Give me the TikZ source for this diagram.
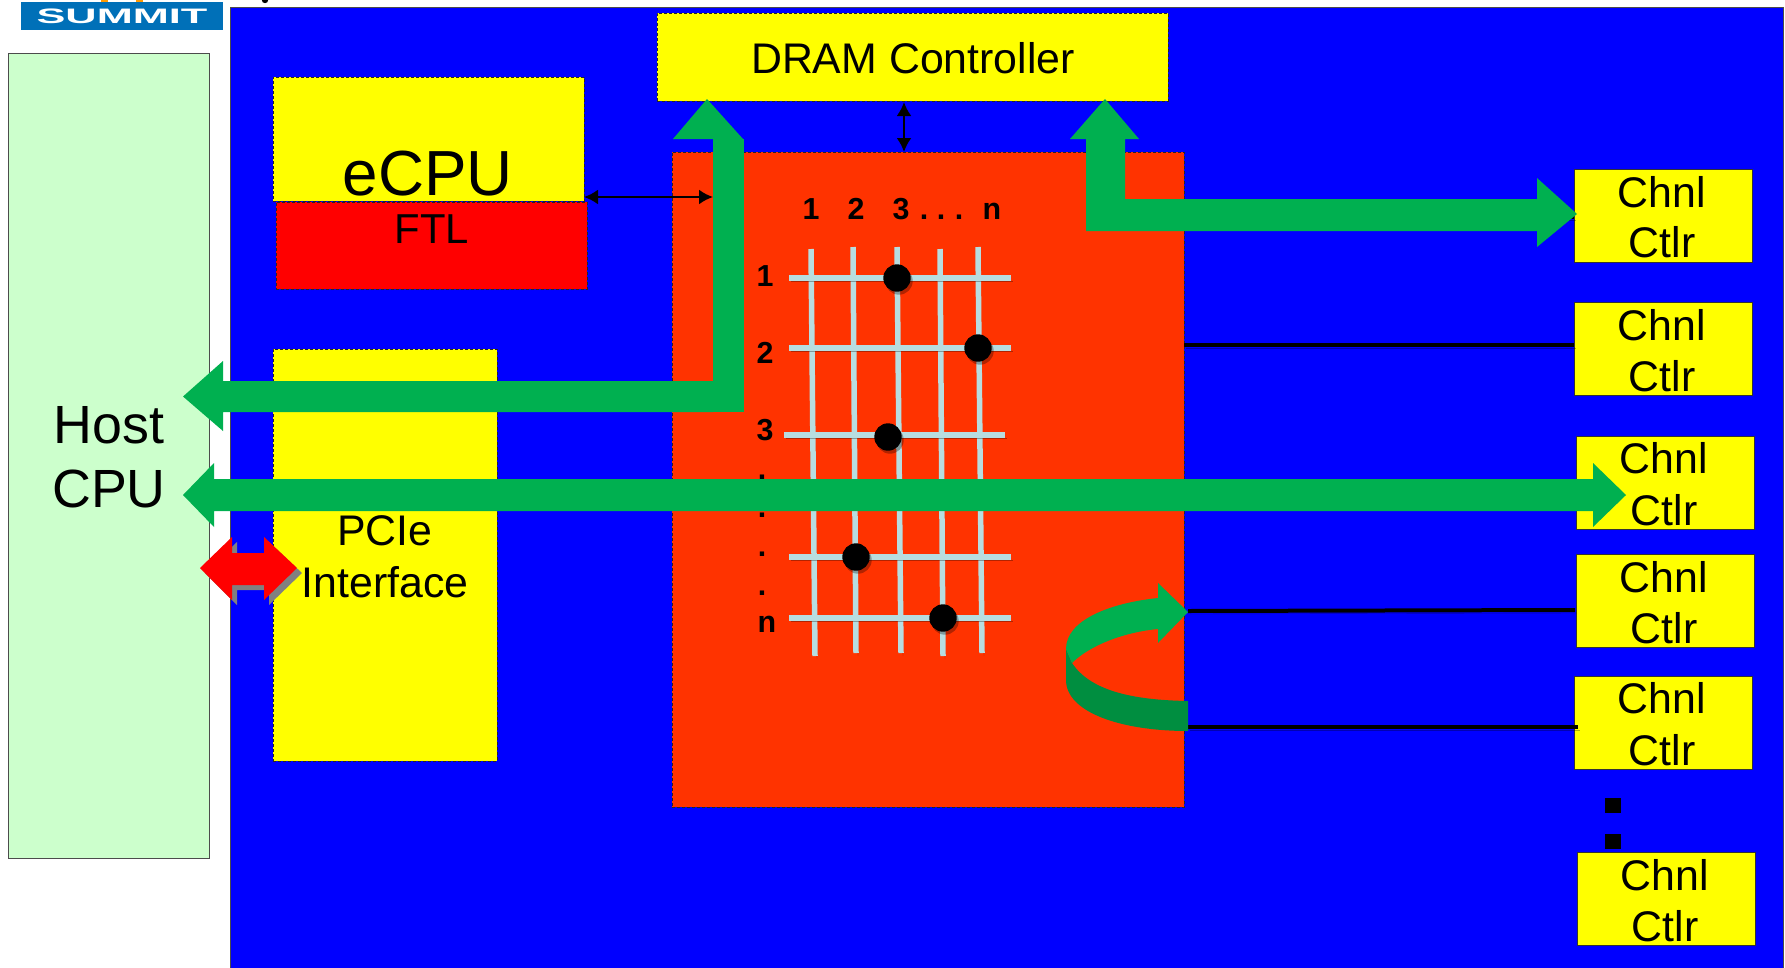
\documentclass[tikz,border=0pt]{standalone}
\usepackage{fontspec}
\setmainfont{Liberation Sans}
\usetikzlibrary{arrows.meta}
\newcommand{\pSize}[1]{\fontsize{#1}{#1}\selectfont}
\begin{document}
\begin{tikzpicture}[x=1bp,y=-1bp,
  blockbox/.style={anchor=north west, inner sep=0pt, outer sep=0pt, draw=black!85, line width=1bp, dash pattern=on 3bp off 2bp},
  chnlbox/.style={anchor=north west, inner sep=0pt, outer sep=0pt, fill=boxyellow, draw=black!80, line width=1bp, minimum width=178bp, minimum height=93bp},
  txtlabel/.style={anchor=base, inner sep=0pt},
  softshadow/.style={preaction={draw=black, opacity=0.3, transform canvas={shift={(2bp,-3bp)}}}},
  wire/.style={draw=black, line width=4bp, softshadow},
  bar/.style={draw=barblue, line width=5.5bp, softshadow},
  crosspoint/.style={fill=black, preaction={fill=black, opacity=0.3, transform canvas={shift={(2bp,-3bp)}}}},
  smallarrow/.style={draw=black, line width=2.4bp, {Latex[length=14bp,width=15bp]}-{Latex[length=14bp,width=15bp]}},
  greenarrow/.style={fill=busgreen},
]
\definecolor{boxyellow}{HTML}{FFFF00}
\definecolor{boxred}{HTML}{FF0000}
\definecolor{boardblue}{HTML}{0000FF}
\definecolor{busgreen}{HTML}{00B050}
\definecolor{busgreendark}{HTML}{008E40}
\definecolor{xbarred}{HTML}{FF3300}
\definecolor{barblue}{HTML}{B7DDE0}
\definecolor{hostgreen}{HTML}{CCFFCC}
\definecolor{logoblue}{HTML}{0070B8}
\useasboundingbox (0,0) rectangle (1785,967);
\clip (0,0) rectangle (1785,967);
\fill[white] (0,0) rectangle (1785,967);
% logo corner and clipped title
\fill[logoblue] (21,2) rectangle (223,30);
\fill[orange!80!yellow] (101,0) rectangle (108,2);
\fill[orange!80!yellow] (136,0) rectangle (143,2);
\fill[black] (265,0) circle (3.2);
\node[txtlabel, white] (logotext) at (122,23.5) {\scalebox{2.07}[1]{\pSize{21}\bfseries SUMMIT}};
% main blocks
\node[anchor=north west, inner sep=0pt, outer sep=0pt, fill=hostgreen, draw=black!70, line width=1bp, minimum width=201bp, minimum height=805bp] (host) at (8,53) {};
\node[anchor=north west, inner sep=0pt, outer sep=0pt, fill=boardblue, draw=black!70, line width=1bp, minimum width=1553bp, minimum height=965bp] (board) at (230,7) {};
\node[blockbox, fill=boxyellow, minimum width=311bp, minimum height=124bp] (ecpu) at (273,77) {};
\node[blockbox, fill=boxred, minimum width=311bp, minimum height=87bp] (ftl) at (276,202) {};
\node[blockbox, fill=boxyellow, minimum width=224bp, minimum height=412bp] (pcie) at (273,349) {};
\node[blockbox, fill=boxyellow, minimum width=511bp, minimum height=88bp] (dram) at (657,13) {};
\node[blockbox, fill=xbarred, minimum width=512bp, minimum height=655bp] (xbar) at (672,152) {};
\node[chnlbox] (chnlA) at (1574,169.5) {};
\node[chnlbox] (chnlB) at (1574,302.5) {};
\node[chnlbox] (chnlC) at (1576,436.5) {};
\node[chnlbox] (chnlD) at (1576,554.5) {};
\node[chnlbox] (chnlE) at (1574,676) {};
\fill[black] (1605,798) rectangle (1621,813);
\fill[black] (1605,834) rectangle (1621,849);
\node[chnlbox] (chnlF) at (1577,852) {};
% black wires
\coordinate (wireA) at (1540,217);
\coordinate (wireB) at (1184,345);
\coordinate (wireD) at (1188,611);
\coordinate (wireDend) at (1575,610);
\coordinate (wireE) at (1188,727);
\coordinate (wireEend) at (1578,727);
\draw[wire] (wireA) -- (wireA -| chnlA.west);
\draw[wire] (wireB) -- (wireB -| chnlB.west);
\draw[wire] (wireD) -- (wireDend);
\draw[wire] (wireE) -- (wireEend);
\coordinate (ecpuport) at (584,197);
\coordinate (busport) at (713,197);
\coordinate (dramport) at (904,102);
\coordinate (xbarport) at (904,152);
\draw[smallarrow] (ecpuport) -- (busport);
\draw[smallarrow] (dramport) -- (xbarport);
% crossbar grid
\draw[bar] (811,249) -- (815,656);
\draw[bar] (853,247) -- (856,653);
\draw[bar] (897,247) -- (901,653);
\draw[bar] (940,249) -- (943,656);
\draw[bar] (978,247) -- (982,653);
\draw[bar] (789,278) -- (1011,278);
\draw[bar] (789,348) -- (1011,348);
\draw[bar] (784,435) -- (1005,435);
\draw[bar] (789,557) -- (1011,557);
\draw[bar] (789,618) -- (1011,618);
\path[crosspoint] (897,278) circle (13.7);
\path[crosspoint] (978,348) circle (13.7);
\path[crosspoint] (888,437) circle (13.7);
\path[crosspoint] (856,557) circle (13.7);
\path[crosspoint] (943,618) circle (13.7);
% crossbar labels
\node[txtlabel] (colA) at (811,219) {\pSize{30.5}\bfseries 1};
\node[txtlabel] (colB) at (856,219) {\pSize{30.5}\bfseries 2};
\node[txtlabel] (colC) at (901,219) {\pSize{30.5}\bfseries 3};
\node[txtlabel] (colDotA) at (924,219) {\pSize{30.5}\bfseries .};
\node[txtlabel] (colDotB) at (941,219) {\pSize{30.5}\bfseries .};
\node[txtlabel] (colDotC) at (959,219) {\pSize{30.5}\bfseries .};
\node[txtlabel] (colN) at (992,219) {\pSize{30.5}\bfseries n};
\node[txtlabel] (rowA) at (765,286) {\pSize{30.5}\bfseries 1};
\node[txtlabel] (rowB) at (765,363) {\pSize{30.5}\bfseries 2};
\node[txtlabel] (rowC) at (765,440) {\pSize{30.5}\bfseries 3};
\node[txtlabel] (rowDotA) at (762,479) {\pSize{30.5}\bfseries .};
\node[txtlabel] (rowDotB) at (762,517) {\pSize{30.5}\bfseries .};
\node[txtlabel] (rowDotC) at (762,556) {\pSize{30.5}\bfseries .};
\node[txtlabel] (rowDotD) at (762,595) {\pSize{30.5}\bfseries .};
\node[txtlabel] (rowN) at (767,632) {\pSize{30.5}\bfseries n};
% block labels
\node[txtlabel] (ecpulabel) at (428,195) {\pSize{64}eCPU};
\node[txtlabel] (ftllabel) at (432,243) {\pSize{42}FTL};
\node[txtlabel] (dramlabel) at (913,73) {\pSize{43}DRAM Controller};
\node[txtlabel] (pcielabelA) at (385,545) {\pSize{43}PCIe};
\node[txtlabel] (pcielabelB) at (385,597) {\pSize{43}Interface};
\node[txtlabel] (hostlabelA) at (109,443) {\pSize{54}Host};
\node[txtlabel] (hostlabelB) at (109,507) {\pSize{54}CPU};
\node[txtlabel] (chnlAa) at (1662,207) {\pSize{43}Chnl};
\node[txtlabel] (chnlAb) at (1662,257) {\pSize{43}Ctlr};
\node[txtlabel] (chnlBa) at (1662,340) {\pSize{43}Chnl};
\node[txtlabel] (chnlBb) at (1662,391) {\pSize{43}Ctlr};
\node[txtlabel] (chnlCa) at (1664,473) {\pSize{43}Chnl};
\node[txtlabel] (chnlCb) at (1664,525) {\pSize{43}Ctlr};
\node[txtlabel] (chnlDa) at (1664,592) {\pSize{43}Chnl};
\node[txtlabel] (chnlDb) at (1664,643) {\pSize{43}Ctlr};
\node[txtlabel] (chnlEa) at (1662,713) {\pSize{43}Chnl};
\node[txtlabel] (chnlEb) at (1662,765) {\pSize{43}Ctlr};
\node[txtlabel] (chnlFa) at (1665,890) {\pSize{43}Chnl};
\node[txtlabel] (chnlFb) at (1665,941) {\pSize{43}Ctlr};
% green bus arrows
\fill[greenarrow] (713,139) rectangle (744,412);
\fill[greenarrow] (707,99) -- (743,139) -- (673,139) -- cycle;
\fill[greenarrow] (713,381) -- (223,381) -- (223,361) -- (183,396.5) -- (223,431) -- (223,412) -- (713,412) -- cycle;
\fill[greenarrow] (183,495) -- (214,463) -- (214,479) -- (1593,479) -- (1593,463) -- (1626,495) -- (1593,527) -- (1593,511) -- (214,511) -- (214,527) -- cycle;
\fill[greenarrow] (1105,99) -- (1139,139) -- (1125,139) -- (1125,199) -- (1537,199) -- (1537,178) -- (1577,214) -- (1537,247) -- (1537,231) -- (1086,231) -- (1086,139) -- (1070,139) -- cycle;
% curled arrow
\fill[busgreendark] (1066,649) -- (1066,680) .. controls (1066,712) and (1120,731) .. (1188,731) -- (1188,701) .. controls (1130,700) and (1090,690) .. (1072,663) -- cycle;
\fill[greenarrow] (1066,649) .. controls (1066,620) and (1110,603) .. (1158,598) -- (1158,583) -- (1188,612) -- (1158,643) -- (1158,629) .. controls (1125,632) and (1090,645) .. (1072,663) -- cycle;
% red link
\fill[boxred, preaction={fill=black!50, transform canvas={shift={(5bp,-5bp)}}}] (200,568) -- (232,537) -- (232,553) -- (264,553) -- (264,537) -- (297,568) -- (264,600) -- (264,585) -- (232,585) -- (232,600) -- cycle;
\end{tikzpicture}
\end{document}
